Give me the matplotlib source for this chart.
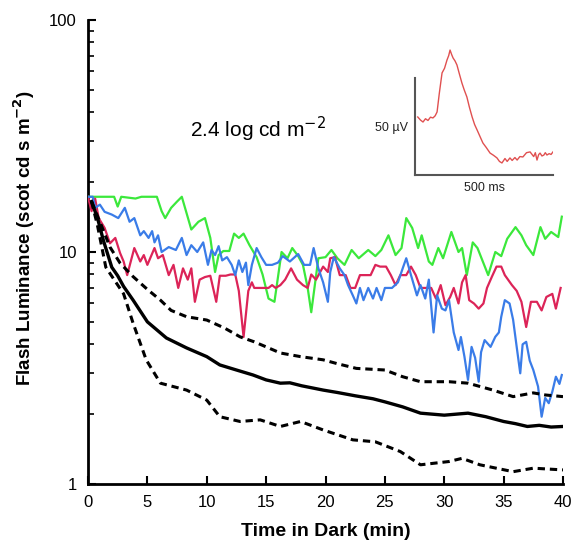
import numpy as np
import matplotlib
matplotlib.use("Agg")
import matplotlib.pyplot as plt

plt.rcParams["font.family"] = ["Liberation Sans", "DejaVu Sans"]

# ============================================================
# DATA
# ============================================================

# mean and +/- bounds of dark adaptation (black)
mean_t = [0.3, 0.8, 1.3, 2.0, 2.5, 3.0, 3.8, 5.0, 6.6, 8.3, 10.0, 11.1,
          12.5, 13.9, 15.0, 16.2, 17.0, 18.0, 19.8, 21.0, 22.5, 24.0, 25.0,
          26.5, 28.0, 30.0, 32.0, 33.5, 35.0, 36.0, 37.0, 38.0, 39.0, 40.0]
mean_y = [16.5, 14.0, 11.2, 8.6, 7.9, 7.1, 6.2, 5.0, 4.26, 3.86, 3.54, 3.26,
          3.1, 2.95, 2.81, 2.72, 2.73, 2.65, 2.54, 2.48, 2.4, 2.33, 2.26,
          2.15, 2.02, 1.98, 2.02, 1.95, 1.86, 1.82, 1.77, 1.79, 1.76, 1.77]

upper_t = [0.3, 1.0, 1.85, 2.7, 3.8, 5.0, 6.1, 7.0, 8.3, 10.0, 11.5, 12.8,
           14.0, 15.0, 16.2, 17.9, 19.8, 21.0, 22.6, 25.0, 26.5, 28.0, 30.4,
           32.0, 34.1, 35.8, 37.5, 38.5, 40.0]
upper_y = [16.5, 13.5, 10.5, 8.96, 7.83, 6.9, 6.2, 5.6, 5.26, 5.09, 4.7, 4.31,
           4.1, 3.9, 3.67, 3.54, 3.43, 3.3, 3.15, 3.1, 2.9, 2.76, 2.76,
           2.72, 2.54, 2.38, 2.47, 2.42, 2.38]

lower_t = [0.3, 0.8, 1.5, 2.2, 3.0, 3.8, 4.9, 6.1, 8.3, 10.0, 11.1, 12.8,
           14.5, 16.2, 17.9, 19.8, 22.3, 24.2, 26.3, 28.0, 30.4, 31.5, 33.0,
           35.8, 37.5, 40.0]
lower_y = [16.5, 13.0, 8.6, 7.6, 6.6, 4.93, 3.43, 2.72, 2.54, 2.3, 1.95, 1.86,
           1.89, 1.77, 1.86, 1.71, 1.55, 1.52, 1.38, 1.21, 1.25, 1.29, 1.21,
           1.13, 1.17, 1.15]

# individual staircases
green_t = [0, 2.2, 2.5, 2.8, 4.0, 4.5, 5.8, 6.2, 6.5, 7.0, 7.5, 7.9, 8.7, 9.3,
           9.85, 10.3, 10.7, 11.0, 11.4, 11.9, 12.3, 12.7, 13.1, 13.6, 14.2,
           14.7, 15.2, 15.7, 16.3, 16.8, 17.2, 17.7, 18.1, 18.5, 18.8, 19.4,
           20.0, 20.5, 21.0, 21.6, 22.2, 22.8, 23.6, 24.2, 24.7, 25.3, 25.9,
           26.4, 26.8, 27.3, 27.8, 28.1, 28.7, 29.0, 29.5, 29.9, 30.6, 31.2,
           31.5, 31.9, 32.4, 32.8, 33.7, 34.3, 34.8, 35.3, 36.0, 36.5, 36.9,
           37.5, 38.1, 38.5, 39.0, 39.6, 39.9]
green_y = [17.3, 17.3, 15.7, 17.3, 17.0, 17.3, 17.3, 15.0, 14.0, 15.5, 16.5,
           17.3, 12.5, 13.5, 14.0, 11.5, 8.2, 9.7, 10.1, 10.1, 12.0, 11.5,
           12.0, 10.7, 9.5, 8.0, 6.3, 6.1, 10.0, 9.4, 10.4, 9.6, 8.8, 7.0,
           5.5, 9.4, 9.5, 10.2, 9.4, 8.8, 10.2, 9.4, 10.2, 9.6, 10.2, 11.8,
           9.7, 10.4, 14.0, 12.7, 10.4, 11.8, 9.1, 8.8, 10.4, 9.4, 12.2, 10.0,
           10.4, 7.95, 11.0, 10.4, 7.95, 10.0, 9.6, 11.4, 12.8, 11.8, 10.7,
           9.7, 12.8, 11.4, 12.2, 11.6, 14.2]

blue_t = [0, 0.4, 0.6, 1.0, 1.4, 2.0, 2.55, 3.1, 3.5, 3.9, 4.4, 4.7, 5.1,
          5.4, 5.6, 5.9, 6.2, 6.8, 7.4, 7.9, 8.3, 8.7, 9.2, 9.7, 10.1, 10.4,
          10.7, 11.0, 11.3, 11.7, 12.1, 12.4, 12.7, 13.0, 13.3, 13.5, 13.8,
          14.2, 14.6, 15.0, 15.5, 16.0, 16.4, 17.0, 17.7, 18.2, 18.7, 19.0,
          19.4, 19.8, 20.2, 20.4, 20.7, 21.2, 21.6, 21.9, 22.3, 22.6, 22.9,
          23.2, 23.6, 24.0, 24.3, 24.7, 25.0, 25.6, 26.1, 26.5, 26.8, 27.2,
          27.7, 28.0, 28.4, 28.7, 29.1, 29.4, 29.8, 30.1, 30.4, 30.8, 31.2,
          31.4, 31.7, 32.0, 32.3, 32.6, 32.9, 33.1, 33.4, 33.9, 34.3, 34.6,
          34.8, 35.1, 35.5, 35.8, 36.1, 36.4, 36.6, 36.9, 37.2, 37.5, 37.9,
          38.2, 38.5, 38.8, 39.1, 39.4, 39.7, 39.9]
blue_y = [17.3, 17.3, 15.5, 16.0, 14.9, 14.5, 14.0, 15.5, 13.5, 14.0, 11.8,
          12.3, 11.5, 12.3, 11.0, 11.8, 10.0, 10.5, 10.2, 11.5, 9.7, 10.7,
          10.0, 11.0, 8.8, 10.2, 9.7, 10.6, 9.2, 9.5, 8.8, 7.95, 9.2, 8.2,
          9.0, 7.2, 8.8, 10.4, 9.5, 8.8, 8.8, 9.0, 9.6, 9.1, 9.8, 8.8, 8.8,
          10.4, 8.5, 7.4, 6.1, 8.2, 9.5, 8.5, 7.95, 7.2, 6.5, 6.0, 7.0, 6.2,
          7.0, 6.3, 7.0, 6.2, 7.0, 7.0, 7.4, 8.5, 9.4, 7.95, 6.5, 7.2, 6.3,
          7.6, 4.5, 6.5, 5.7, 5.6, 6.2, 4.5, 3.78, 4.3, 3.54, 2.81, 3.9,
          3.5, 2.76, 3.7, 4.17, 3.9, 4.31, 4.5, 5.26, 6.2, 6.0, 5.1, 3.9,
          3.0, 4.0, 4.1, 3.4, 3.1, 2.63, 1.95, 2.35, 2.23, 2.5, 2.9, 2.7,
          2.95]

red_t = [0, 0.3, 0.6, 0.9, 1.4, 1.85, 2.3, 2.7, 3.0, 3.3, 3.6, 3.9, 4.4,
         4.7, 5.0, 5.6, 5.9, 6.3, 6.8, 7.2, 7.6, 8.0, 8.4, 8.7, 9.0, 9.4,
         9.85, 10.3, 10.8, 11.1, 11.6, 12.0, 12.4, 12.7, 13.1, 13.5, 13.8,
         14.0, 14.6, 15.2, 15.5, 15.8, 16.2, 16.6, 17.1, 17.6, 18.1, 18.5,
         18.8, 19.2, 19.8, 20.2, 20.4, 20.8, 21.2, 21.7, 22.1, 22.5, 22.9,
         23.3, 23.8, 24.2, 24.6, 25.1, 25.5, 25.9, 26.3, 26.8, 27.2, 27.6,
         28.0, 28.4, 28.9, 29.3, 29.7, 30.1, 30.5, 30.8, 31.2, 31.5, 31.8,
         32.1, 32.5, 32.9, 33.3, 33.6, 34.0, 34.4, 34.8, 35.1, 35.7, 36.1,
         36.5, 36.9, 37.3, 37.8, 38.2, 38.6, 39.1, 39.4, 39.8]
red_y = [17.3, 15.0, 17.0, 14.0, 12.7, 10.9, 11.5, 9.9, 9.1, 7.95, 9.1,
         10.4, 9.1, 9.7, 8.8, 10.4, 9.4, 9.7, 7.95, 8.8, 7.0, 8.5, 7.6, 8.5,
         6.1, 7.6, 7.8, 7.9, 6.1, 7.9, 7.9, 8.0, 8.0, 6.8, 4.3, 6.8, 7.4,
         7.0, 7.0, 7.0, 7.2, 7.0, 7.2, 7.6, 8.5, 7.6, 7.2, 7.0, 8.0, 7.6,
         8.65, 8.2, 9.4, 9.5, 7.95, 7.95, 7.0, 7.0, 7.95, 7.95, 7.95, 8.8,
         8.65, 8.65, 7.95, 7.2, 7.95, 7.95, 8.65, 7.95, 7.0, 7.0, 7.0, 6.3,
         7.2, 5.9, 6.4, 7.0, 6.0, 7.4, 7.95, 6.2, 6.0, 5.7, 6.0, 7.0, 7.8,
         8.65, 8.65, 7.95, 7.2, 6.8, 6.1, 4.75, 6.1, 6.1, 5.6, 6.4, 6.6,
         5.7, 7.0]

# inset ERG trace (ms, uV)
erg_ms = [10, 20, 29, 38, 47, 56, 65, 73, 80, 88, 98, 107, 116, 122, 127,
          133, 138, 145, 152, 160, 170, 178, 188, 197, 207, 216, 225, 235,
          246, 258, 272, 284, 297, 306, 315, 326, 334, 344, 352, 362, 370,
          380, 391, 404, 417, 430, 436, 442, 448, 453, 460, 467, 472, 478,
          486, 493, 500]
erg_uv = [29.9, 28.3, 27.3, 29.0, 28.1, 29.8, 29.4, 30.5, 32.5, 42.0, 52.6,
          55.0, 59.3, 61.5, 64.4, 62.0, 60.3, 58.8, 56.7, 52.5, 47.4, 44.0,
          40.2, 35.0, 29.9, 26.0, 23.2, 20.0, 16.5, 14.2, 11.3, 10.2, 8.8,
          7.0, 6.2, 8.5, 7.0, 8.8, 7.5, 9.0, 7.7, 9.5, 9.3, 11.5, 11.9, 9.5,
          11.5, 7.7, 10.5, 11.3, 9.8, 10.3, 11.5, 10.3, 11.0, 10.6, 11.9]

# ============================================================
# MAIN PLOT
# ============================================================

fig = plt.figure(figsize=(5.71, 5.45), dpi=100)
ax = fig.add_axes([88 / 571, 1 - 484 / 545, 475 / 571, 464 / 545])

ax.plot(green_t, green_y, color="#3be83b", lw=1.6, zorder=3)
ax.plot(red_t, red_y, color="#dc2458", lw=1.6, zorder=4)
ax.plot(blue_t, blue_y, color="#3a7ce8", lw=1.6, zorder=5)

ax.plot(mean_t, mean_y, color="black", lw=2.4, zorder=6)
ax.plot(upper_t, upper_y, color="black", lw=2.2, dashes=(2.4, 1.6), zorder=6)
ax.plot(lower_t, lower_y, color="black", lw=2.2, dashes=(2.4, 1.6), zorder=6)

ax.set_yscale("log")
ax.set_xlim(0, 40)
ax.set_ylim(1, 100)

ax.set_xticks([0, 5, 10, 15, 20, 25, 30, 35, 40])
ax.set_yticks([1, 10, 100])
ax.set_yticklabels(["1", "10", "100"])

for s in ["top", "right"]:
    ax.spines[s].set_visible(False)
for s in ["left", "bottom"]:
    ax.spines[s].set_linewidth(2.0)

ax.tick_params(axis="both", which="major", direction="in", length=6,
               width=1.5, labelsize=12, pad=8)
ax.tick_params(axis="y", which="minor", direction="in", length=4, width=1.2)
ax.yaxis.set_minor_formatter(matplotlib.ticker.NullFormatter())

ax.set_xlabel("Time in Dark (min)", fontsize=14, fontweight="bold",
              labelpad=9)
ax.set_ylabel("Flash Luminance (scot cd s m$^{\\mathbf{-2}}$)", fontsize=13.5,
              fontweight="bold")
ax.yaxis.set_label_coords(-0.108, 0.53)

ax.text(0.215, 0.765, "2.4 log cd m$^{-2}$", transform=ax.transAxes,
        fontsize=15, ha="left", va="center")

# ============================================================
# INSET
# ============================================================

ins = fig.add_axes([415 / 571, 1 - 175 / 545, 138 / 571, 130 / 545])
ins.patch.set_alpha(0)
ins.plot(erg_ms, erg_uv, color="#e05050", lw=1.0)
ins.set_xlim(0, 500)
ins.set_ylim(0, 67)
ins.spines["top"].set_visible(False)
ins.spines["right"].set_visible(False)
ins.spines["left"].set_bounds(0, 50)
ins.spines["left"].set_color("#555555")
ins.spines["bottom"].set_color("#555555")
ins.spines["left"].set_linewidth(1.5)
ins.spines["bottom"].set_linewidth(1.5)
ins.set_xticks([])
ins.set_yticks([])
ins.text(-0.05, 0.36, "50 \u00b5V", transform=ins.transAxes, fontsize=9,
         ha="right", va="center", color="#222222")
ins.text(0.5, -0.1, "500 ms", transform=ins.transAxes, fontsize=9,
         ha="center", va="center", color="#222222")

fig.savefig("out.png", dpi=100)
